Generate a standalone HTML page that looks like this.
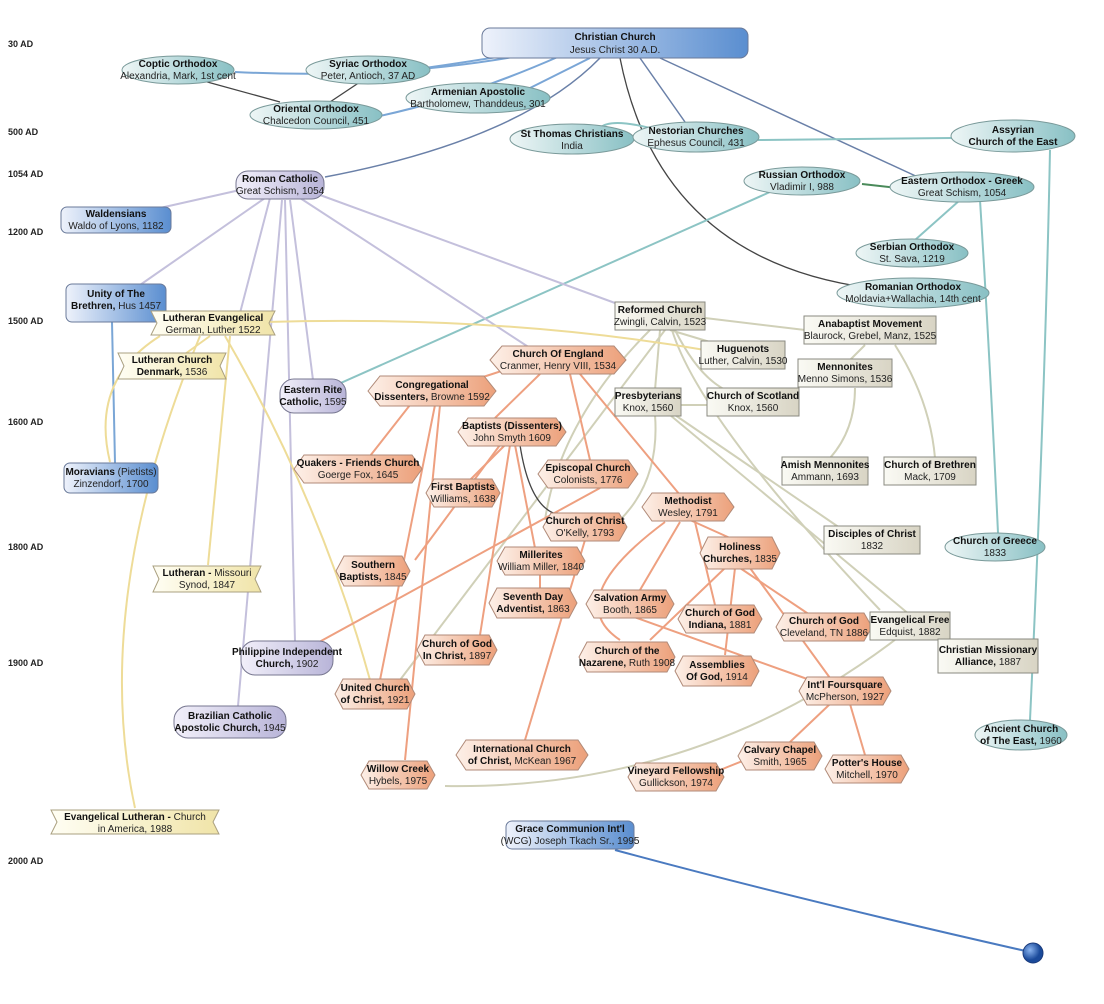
<!DOCTYPE html>
<html><head><meta charset="utf-8"><style>
html,body{margin:0;padding:0;background:#fff;width:1104px;height:1004px;overflow:hidden}
svg{display:block}
text{font-family:"Liberation Sans",sans-serif;font-size:10px;text-anchor:middle;fill:#222}
.b{font-weight:bold;fill:#111}
.ax{font-weight:bold;font-size:9px;text-anchor:start}
.t{fill:url(#gt);stroke:#7a9a9a;stroke-width:1}
.o{fill:url(#go);stroke:#b08a78;stroke-width:1}
.g{fill:url(#gg);stroke:#8a8a80;stroke-width:1}
.p{fill:url(#gp);stroke:#777790;stroke-width:1}
.u{fill:url(#gu);stroke:#6a7a9a;stroke-width:1}
.y{fill:url(#gy);stroke:#aaa080;stroke-width:1}
path{fill:none;stroke-width:2}
.lt{stroke:#8cc4c4}.lo{stroke:#eea080}.lg{stroke:#d0d0b8}.lp{stroke:#c4c0dc}.lb{stroke:#7aa6d6}.ly{stroke:#eedc98}.lk{stroke:#444;stroke-width:1.3}.ld{stroke:#6a80a8;stroke-width:1.5}
</style></head><body>
<svg width="1104" height="1004" viewBox="0 0 1104 1004">
<defs>
<linearGradient id="gt" x1="0" x2="1"><stop offset="0" stop-color="#eef6f6"/><stop offset="1" stop-color="#88c0c4"/></linearGradient>
<linearGradient id="go" x1="0" x2="1"><stop offset="0" stop-color="#fdf0e8"/><stop offset="1" stop-color="#eca07a"/></linearGradient>
<linearGradient id="gg" x1="0" x2="1"><stop offset="0" stop-color="#fafaf4"/><stop offset="1" stop-color="#d8d4c4"/></linearGradient>
<linearGradient id="gp" x1="0" x2="1"><stop offset="0" stop-color="#f2f0fa"/><stop offset="1" stop-color="#b8b4d8"/></linearGradient>
<linearGradient id="gu" x1="0" x2="1"><stop offset="0" stop-color="#eef2fb"/><stop offset="1" stop-color="#5a8ed0"/></linearGradient>
<linearGradient id="gy" x1="0" x2="1"><stop offset="0" stop-color="#fffef4"/><stop offset="1" stop-color="#f0e4a8"/></linearGradient>
<radialGradient id="dot" cx="0.35" cy="0.35"><stop offset="0" stop-color="#8ab4f0"/><stop offset="1" stop-color="#1a4a9a"/></radialGradient>
</defs>

<!-- axis -->
<text class="ax" x="8" y="47">30 AD</text>
<text class="ax" x="8" y="135">500 AD</text>
<text class="ax" x="8" y="177">1054 AD</text>
<text class="ax" x="8" y="235">1200 AD</text>
<text class="ax" x="8" y="324">1500 AD</text>
<text class="ax" x="8" y="425">1600 AD</text>
<text class="ax" x="8" y="550">1800 AD</text>
<text class="ax" x="8" y="666">1900 AD</text>
<text class="ax" x="8" y="864">2000 AD</text>

<!-- edges -->
<path class="lb" d="M540,52 Q400,80 235,72"/>
<path class="lb" d="M540,50 Q480,60 425,68"/>
<path class="lb" d="M560,56 Q460,100 370,118"/>
<path class="lb" d="M590,58 L530,88"/>
<path class="ld" d="M640,58 L685,122"/>
<path class="ld" d="M600,58 Q520,140 325,177"/>
<path class="ld" d="M660,58 L920,178"/>
<path class="lk" d="M620,58 Q660,260 870,288"/>
<path class="lk" d="M200,80 L280,102"/>
<path class="lk" d="M360,82 L330,102"/>
<path class="lt" d="M650,128 Q610,118 600,128"/>
<path class="lt" d="M758,140 L952,138"/>
<path class="lt" d="M1050,150 Q1045,400 1030,720"/>
<path class="lt" d="M915,190 Q880,186 862,184" style="stroke:#4a8a5a"/>
<path class="lt" d="M770,192 L325,390"/>
<path class="lt" d="M960,200 L915,240"/>
<path class="lt" d="M980,200 Q990,360 998,533"/>
<path class="lp" d="M240,190 L160,208"/>
<path class="lp" d="M265,198 L140,285"/>
<path class="lp" d="M270,198 L240,313"/>
<path class="lp" d="M300,198 L530,348"/>
<path class="lp" d="M320,195 L615,303"/>
<path class="lp" d="M290,200 L313,380"/>
<path class="lp" d="M285,200 L295,642"/>
<path class="lp" d="M282,200 L238,706"/>
<path class="lb" d="M112,322 L115,463"/>
<path class="lg" d="M705,318 L805,330"/>
<path class="lg" d="M670,330 L720,345"/>
<path class="lg" d="M660,330 L655,390"/>
<path class="lg" d="M675,330 Q700,380 730,392"/>
<path class="lg" d="M672,330 Q700,420 880,610"/>
<path class="lg" d="M665,330 L400,680"/>
<path class="lg" d="M650,330 Q560,420 545,520"/>
<path class="lg" d="M710,405 L680,405"/>
<path class="lg" d="M675,415 L840,528"/>
<path class="lg" d="M670,415 L940,640"/>
<path class="lg" d="M655,415 Q660,480 620,520"/>
<path class="lg" d="M865,345 L850,360"/>
<path class="lg" d="M895,345 Q930,400 935,458"/>
<path class="lg" d="M855,388 Q855,430 830,458"/>
<path class="lg" d="M900,636 Q700,790 445,786"/>
<path class="ly" d="M265,322 Q500,315 705,350"/>
<path class="ly" d="M210,336 L185,354"/>
<path class="ly" d="M160,336 Q90,380 110,462"/>
<path class="ly" d="M230,336 L208,565"/>
<path class="ly" d="M200,336 Q90,600 135,808"/>
<path class="ly" d="M225,336 Q320,500 370,680"/>
<path class="lo" d="M520,365 L480,378"/>
<path class="lo" d="M540,374 L495,418"/>
<path class="lo" d="M570,374 L590,460"/>
<path class="lo" d="M580,374 L680,495"/>
<path class="lo" d="M410,405 L370,456"/>
<path class="lo" d="M435,405 L380,680"/>
<path class="lo" d="M440,405 L405,760"/>
<path class="lo" d="M500,445 L415,560"/>
<path class="lo" d="M505,445 L470,480"/>
<path class="lo" d="M515,445 L535,548"/>
<path class="lo" d="M510,445 L480,635"/>
<path class="lk" d="M520,445 Q530,510 560,515"/>
<path class="lo" d="M600,488 L290,658"/>
<path class="lo" d="M585,540 L525,740"/>
<path class="lo" d="M540,574 L540,590"/>
<path class="lo" d="M690,520 L730,538"/>
<path class="lo" d="M680,522 L640,590"/>
<path class="lo" d="M695,522 L715,605"/>
<path class="lo" d="M665,522 Q560,600 620,640"/>
<path class="lo" d="M740,568 L810,615"/>
<path class="lo" d="M735,568 L725,655"/>
<path class="lo" d="M750,568 L830,678"/>
<path class="lo" d="M725,568 L650,640"/>
<path class="lo" d="M620,612 L810,680"/>
<path class="lo" d="M830,704 L790,742"/>
<path class="lo" d="M850,704 L865,755"/>
<path class="lo" d="M745,760 L720,770"/>
<path class="lb" d="M1030,952 Q800,900 615,850" style="stroke:#4a7ac0"/>

<!-- nodes -->
<g transform="translate(615,43)"><rect x="-133" y="-15" width="266" height="30" rx="8" class="u"/><text class="b" y="-3">Christian Church</text><text y="10">Jesus Christ 30 A.D.</text></g>
<g transform="translate(178,70)"><ellipse rx="56" ry="14" class="t"/><text class="b" y="-3">Coptic Orthodox</text><text y="9">Alexandria, Mark, 1st cent</text></g>
<g transform="translate(368,70)"><ellipse rx="62" ry="14" class="t"/><text class="b" y="-3">Syriac Orthodox</text><text y="9">Peter, Antioch, 37 AD</text></g>
<g transform="translate(316,115)"><ellipse rx="66" ry="14" class="t"/><text class="b" y="-3">Oriental Orthodox</text><text y="9">Chalcedon Council, 451</text></g>
<g transform="translate(478,98)"><ellipse rx="72" ry="15" class="t"/><text class="b" y="-3">Armenian Apostolic</text><text y="9">Bartholomew, Thanddeus, 301</text></g>
<g transform="translate(572,139)"><ellipse rx="62" ry="15" class="t"/><text class="b" y="-2">St Thomas Christians</text><text y="10">India</text></g>
<g transform="translate(696,137)"><ellipse rx="63" ry="15" class="t"/><text class="b" y="-3">Nestorian Churches</text><text y="9">Ephesus Council, 431</text></g>
<g transform="translate(1013,136)"><ellipse rx="62" ry="16" class="t"/><text class="b" y="-3">Assyrian</text><text class="b" y="9">Church of the East</text></g>
<g transform="translate(280,185)"><rect x="-44" y="-14" width="88" height="28" rx="12" class="p"/><text class="b" y="-3">Roman Catholic</text><text y="9">Great Schism, 1054</text></g>
<g transform="translate(802,181)"><ellipse rx="58" ry="14" class="t"/><text class="b" y="-3">Russian Orthodox</text><text y="9">Vladimir I, 988</text></g>
<g transform="translate(962,187)"><ellipse rx="72" ry="15" class="t"/><text class="b" y="-3">Eastern Orthodox - Greek</text><text y="9">Great Schism, 1054</text></g>
<g transform="translate(116,220)"><rect x="-55" y="-13" width="110" height="26" rx="6" class="u"/><text class="b" y="-3">Waldensians</text><text y="9">Waldo of Lyons, 1182</text></g>
<g transform="translate(912,253)"><ellipse rx="56" ry="14" class="t"/><text class="b" y="-3">Serbian Orthodox</text><text y="9">St. Sava, 1219</text></g>
<g transform="translate(913,293)"><ellipse rx="76" ry="15" class="t"/><text class="b" y="-3">Romanian Orthodox</text><text y="9">Moldavia+Wallachia, 14th cent</text></g>
<g transform="translate(116,303)"><rect x="-50" y="-19" width="100" height="38" rx="6" class="u"/><text class="b" y="-6">Unity of The</text><text y="6"><tspan class="b">Brethren,</tspan> Hus 1457</text></g>
<g transform="translate(213,323)"><polygon points="-62,-12 62,-12 56,0 62,12 -62,12 -56,0" class="y"/><text class="b" y="-2">Lutheran Evangelical</text><text y="10">German, Luther 1522</text></g>
<g transform="translate(660,316)"><rect x="-45" y="-14" width="90" height="28" class="g"/><text class="b" y="-3">Reformed Church</text><text y="9">Zwingli, Calvin, 1523</text></g>
<g transform="translate(870,330)"><rect x="-66" y="-14" width="132" height="28" class="g"/><text class="b" y="-3">Anabaptist Movement</text><text y="9">Blaurock, Grebel, Manz, 1525</text></g>
<g transform="translate(172,366)"><polygon points="-54,-13 54,-13 48,0 54,13 -54,13 -48,0" class="y"/><text class="b" y="-3">Lutheran Church</text><text y="9"><tspan class="b">Denmark,</tspan> 1536</text></g>
<g transform="translate(558,360)"><polygon points="-68,0 -56,-14 56,-14 68,0 56,14 -56,14" class="o"/><text class="b" y="-3">Church Of England</text><text y="9">Cranmer, Henry VIII, 1534</text></g>
<g transform="translate(743,355)"><rect x="-42" y="-14" width="84" height="28" class="g"/><text class="b" y="-3">Huguenots</text><text y="9">Luther, Calvin, 1530</text></g>
<g transform="translate(845,373)"><rect x="-47" y="-14" width="94" height="28" class="g"/><text class="b" y="-3">Mennonites</text><text y="9">Menno Simons, 1536</text></g>
<g transform="translate(313,396)"><rect x="-33" y="-17" width="66" height="34" rx="14" class="p"/><text class="b" y="-3">Eastern Rite</text><text y="9"><tspan class="b">Catholic,</tspan> 1595</text></g>
<g transform="translate(432,391)"><polygon points="-64,0 -52,-15 52,-15 64,0 52,15 -52,15" class="o"/><text class="b" y="-3">Congregational</text><text y="9"><tspan class="b">Dissenters,</tspan> Browne 1592</text></g>
<g transform="translate(648,402)"><rect x="-33" y="-14" width="66" height="28" class="g"/><text class="b" y="-3">Presbyterians</text><text y="9">Knox, 1560</text></g>
<g transform="translate(753,402)"><rect x="-46" y="-14" width="92" height="28" class="g"/><text class="b" y="-3">Church of Scotland</text><text y="9">Knox, 1560</text></g>
<g transform="translate(512,432)"><polygon points="-54,0 -44,-14 44,-14 54,0 44,14 -44,14" class="o"/><text class="b" y="-3">Baptists (Dissenters)</text><text y="9">John Smyth 1609</text></g>
<g transform="translate(358,469)"><polygon points="-64,0 -54,-14 54,-14 64,0 54,14 -54,14" class="o"/><text class="b" y="-3">Quakers - Friends Church</text><text y="9">Goerge Fox, 1645</text></g>
<g transform="translate(588,474)"><polygon points="-50,0 -40,-14 40,-14 50,0 40,14 -40,14" class="o"/><text class="b" y="-3">Episcopal Church</text><text y="9">Colonists, 1776</text></g>
<g transform="translate(825,471)"><rect x="-43" y="-14" width="86" height="28" class="g"/><text class="b" y="-3">Amish Mennonites</text><text y="9">Ammann, 1693</text></g>
<g transform="translate(930,471)"><rect x="-46" y="-14" width="92" height="28" class="g"/><text class="b" y="-3">Church of Brethren</text><text y="9">Mack, 1709</text></g>
<g transform="translate(111,478)"><rect x="-47" y="-15" width="94" height="30" rx="6" class="u"/><text y="-3"><tspan class="b">Moravians</tspan> (Pietists)</text><text y="9">Zinzendorf, 1700</text></g>
<g transform="translate(463,493)"><polygon points="-37,0 -29,-14 29,-14 37,0 29,14 -29,14" class="o"/><text class="b" y="-3">First Baptists</text><text y="9">Williams, 1638</text></g>
<g transform="translate(688,507)"><polygon points="-46,0 -36,-14 36,-14 46,0 36,14 -36,14" class="o"/><text class="b" y="-3">Methodist</text><text y="9">Wesley, 1791</text></g>
<g transform="translate(585,527)"><polygon points="-42,0 -34,-14 34,-14 42,0 34,14 -34,14" class="o"/><text class="b" y="-3">Church of Christ</text><text y="9">O'Kelly, 1793</text></g>
<g transform="translate(872,540)"><rect x="-48" y="-14" width="96" height="28" class="g"/><text class="b" y="-3">Disciples of Christ</text><text y="9">1832</text></g>
<g transform="translate(995,547)"><ellipse rx="50" ry="14" class="t"/><text class="b" y="-3">Church of Greece</text><text y="9">1833</text></g>
<g transform="translate(740,553)"><polygon points="-40,0 -32,-16 32,-16 40,0 32,16 -32,16" class="o"/><text class="b" y="-3">Holiness</text><text y="9"><tspan class="b">Churches,</tspan> 1835</text></g>
<g transform="translate(541,561)"><polygon points="-44,0 -36,-14 36,-14 44,0 36,14 -36,14" class="o"/><text class="b" y="-3">Millerites</text><text y="9">William Miller, 1840</text></g>
<g transform="translate(373,571)"><polygon points="-37,0 -29,-15 29,-15 37,0 29,15 -29,15" class="o"/><text class="b" y="-3">Southern</text><text y="9"><tspan class="b">Baptists,</tspan> 1845</text></g>
<g transform="translate(207,579)"><polygon points="-54,-13 54,-13 48,0 54,13 -54,13 -48,0" class="y"/><text y="-3"><tspan class="b">Lutheran -</tspan> Missouri</text><text y="9">Synod, 1847</text></g>
<g transform="translate(533,603)"><polygon points="-44,0 -36,-15 36,-15 44,0 36,15 -36,15" class="o"/><text class="b" y="-3">Seventh Day</text><text y="9"><tspan class="b">Adventist,</tspan> 1863</text></g>
<g transform="translate(630,604)"><polygon points="-44,0 -36,-14 36,-14 44,0 36,14 -36,14" class="o"/><text class="b" y="-3">Salvation Army</text><text y="9">Booth, 1865</text></g>
<g transform="translate(720,619)"><polygon points="-42,0 -34,-14 34,-14 42,0 34,14 -34,14" class="o"/><text class="b" y="-3">Church of God</text><text y="9"><tspan class="b">Indiana,</tspan> 1881</text></g>
<g transform="translate(824,627)"><polygon points="-48,0 -40,-14 40,-14 48,0 40,14 -40,14" class="o"/><text class="b" y="-3">Church of God</text><text y="9">Cleveland, TN 1886</text></g>
<g transform="translate(910,626)"><rect x="-40" y="-14" width="80" height="28" class="g"/><text class="b" y="-3">Evangelical Free</text><text y="9">Edquist, 1882</text></g>
<g transform="translate(988,656)"><rect x="-50" y="-17" width="100" height="34" class="g"/><text class="b" y="-3">Christian Missionary</text><text y="9"><tspan class="b">Alliance,</tspan> 1887</text></g>
<g transform="translate(287,658)"><rect x="-46" y="-17" width="92" height="34" rx="14" class="p"/><text class="b" y="-3">Philippine Independent</text><text y="9"><tspan class="b">Church,</tspan> 1902</text></g>
<g transform="translate(457,650)"><polygon points="-40,0 -32,-15 32,-15 40,0 32,15 -32,15" class="o"/><text class="b" y="-3">Church of God</text><text y="9"><tspan class="b">In Christ,</tspan> 1897</text></g>
<g transform="translate(627,657)"><polygon points="-48,0 -40,-15 40,-15 48,0 40,15 -40,15" class="o"/><text class="b" y="-3">Church of the</text><text y="9"><tspan class="b">Nazarene,</tspan> Ruth 1908</text></g>
<g transform="translate(717,671)"><polygon points="-42,0 -34,-15 34,-15 42,0 34,15 -34,15" class="o"/><text class="b" y="-3">Assemblies</text><text y="9"><tspan class="b">Of God,</tspan> 1914</text></g>
<g transform="translate(845,691)"><polygon points="-46,0 -38,-14 38,-14 46,0 38,14 -38,14" class="o"/><text class="b" y="-3">Int'l Foursquare</text><text y="9">McPherson, 1927</text></g>
<g transform="translate(375,694)"><polygon points="-40,0 -32,-15 32,-15 40,0 32,15 -32,15" class="o"/><text class="b" y="-3">United Church</text><text y="9"><tspan class="b">of Christ,</tspan> 1921</text></g>
<g transform="translate(230,722)"><rect x="-56" y="-16" width="112" height="32" rx="14" class="p"/><text class="b" y="-3">Brazilian Catholic</text><text y="9"><tspan class="b">Apostolic Church,</tspan> 1945</text></g>
<g transform="translate(1021,735)"><ellipse rx="46" ry="15" class="t"/><text class="b" y="-3">Ancient Church</text><text y="9"><tspan class="b">of The East,</tspan> 1960</text></g>
<g transform="translate(522,755)"><polygon points="-66,0 -56,-15 56,-15 66,0 56,15 -56,15" class="o"/><text class="b" y="-3">International Church</text><text y="9"><tspan class="b">of Christ,</tspan> McKean 1967</text></g>
<g transform="translate(780,756)"><polygon points="-42,0 -34,-14 34,-14 42,0 34,14 -34,14" class="o"/><text class="b" y="-3">Calvary Chapel</text><text y="9">Smith, 1965</text></g>
<g transform="translate(676,777)"><polygon points="-48,0 -40,-14 40,-14 48,0 40,14 -40,14" class="o"/><text class="b" y="-3">Vineyard Fellowship</text><text y="9">Gullickson, 1974</text></g>
<g transform="translate(867,769)"><polygon points="-42,0 -34,-14 34,-14 42,0 34,14 -34,14" class="o"/><text class="b" y="-3">Potter's House</text><text y="9">Mitchell, 1970</text></g>
<g transform="translate(398,775)"><polygon points="-37,0 -29,-14 29,-14 37,0 29,14 -29,14" class="o"/><text class="b" y="-3">Willow Creek</text><text y="9">Hybels, 1975</text></g>
<g transform="translate(135,822)"><polygon points="-84,-12 84,-12 78,0 84,12 -84,12 -78,0" class="y"/><text y="-2"><tspan class="b">Evangelical Lutheran -</tspan> Church</text><text y="10">in America, 1988</text></g>
<g transform="translate(570,835)"><rect x="-64" y="-14" width="128" height="28" rx="6" class="u"/><text class="b" y="-3">Grace Communion Int'l</text><text y="9">(WCG) Joseph Tkach Sr., 1995</text></g>
<circle cx="1033" cy="953" r="10" fill="url(#dot)" stroke="#1a3a7a"/>
</svg>
</body></html>
